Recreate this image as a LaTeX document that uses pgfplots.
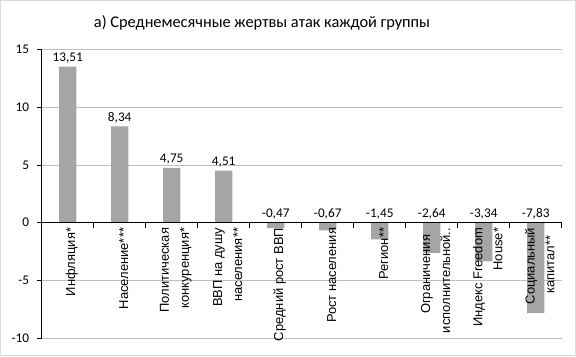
\documentclass[border=0pt]{standalone}
\usepackage{fontspec}
\setmainfont{Carlito}
\newfontfamily\lsans{Liberation Sans}
\usepackage{pgfplots}
\usepackage{pgfplotstable}
\pgfplotsset{compat=1.18}
\pgfplotsset{layers/barsbelow/.define layer set={axis background,axis grid,main,axis ticks,axis lines,axis tick labels,axis descriptions,axis foreground}{/pgfplots/layers/standard}}
\definecolor{barg}{RGB}{165,165,165}
\definecolor{gridg}{RGB}{191,191,191}
\definecolor{frameg}{RGB}{217,217,217}
\pgfplotstableread{
x y
0 13.51
1 8.34
2 4.75
3 4.51
}\posdata
\pgfplotstableread{
x y
4 -0.47
5 -0.67
6 -1.45
7 -2.64
8 -3.34
9 -7.83
}\negdata
\begin{document}
\begin{tikzpicture}[x=1bp,y=1bp]
\begin{axis}[
  set layers=barsbelow,
  at={(41.7bp,17.7bp)}, anchor=south west,
  scale only axis, width=520bp, height=289bp,
  xmin=-0.5, xmax=9.5, ymin=-10, ymax=15,
  axis x line=middle, axis y line=left,
  axis line style={-, black, line width=0.75bp},
  every inner x axis line/.append style={-},
  every outer y axis line/.append style={-},
  hide obscured x ticks=false, hide obscured y ticks=false,
  ytick={-10,-5,0,5,10,15},
  ymajorgrids, grid style={gridg, line width=0.75bp},
  ytick style={black, line width=0.75bp},
  tick align=outside, major tick length=5bp,
  xtick={0,...,9},
  xtick style={draw=none},
  xticklabels={{Инфляция*},{Население***},{Политическая\\конкуренция*},{ВВП на душу\\населения**},{Средний рост ВВП},{Рост населения},{Регион**},{Ограничения\hspace*{7bp}\\исполнительной..},{Индекс Freedom\\House*},{Социальный\\капитал**\hspace*{8bp}}},
  xticklabel style={rotate=90, anchor=east, align=right, font=\lsans\fontsize{13}{20}\selectfont, inner sep=0pt, yshift=-4bp},
  extra x ticks={-0.5,0.5,1.5,2.5,3.5,4.5,5.5,6.5,7.5,8.5,9.5},
  extra x tick labels={},
  extra x tick style={xtick style={draw=black, line width=0.75bp}, tick align=outside},
  yticklabel style={font=\fontsize{13.3}{15}\selectfont, xshift=-4bp},
  /pgf/number format/assume math mode=true,
  /pgf/number format/use comma,
  clip=false,
]
\addplot[ybar, bar width=0.33, bar shift=0, fill=barg, draw=none,
  nodes near coords,
  nodes near coords style={font=\fontsize{13.3}{15}\selectfont, anchor=south, /pgf/number format/.cd, fixed, fixed zerofill, precision=2, use comma, assume math mode=true}]
  table[x=x, y=y] {\posdata};
\addplot[ybar, bar width=0.33, bar shift=0, fill=barg, draw=none]
  table[x=x, y=y] {\negdata};
\addplot[draw=none, mark=none, nodes near coords, point meta=explicit,
  nodes near coords style={font=\fontsize{13.3}{15}\selectfont, anchor=south, /pgf/number format/.cd, fixed, fixed zerofill, precision=2, use comma, assume math mode=true}]
  table[x=x, y expr=0, meta=y] {\negdata};
\end{axis}
\node[font=\fontsize{16.4}{19}\selectfont] at (262,333) {а) Среднемесячные жертвы атак каждой группы};
\draw[frameg, line width=1bp] (0.5,0.5) rectangle (575.5,355.5);
\pgfresetboundingbox
\useasboundingbox (0,0) rectangle (576,356);
\end{tikzpicture}
\end{document}
